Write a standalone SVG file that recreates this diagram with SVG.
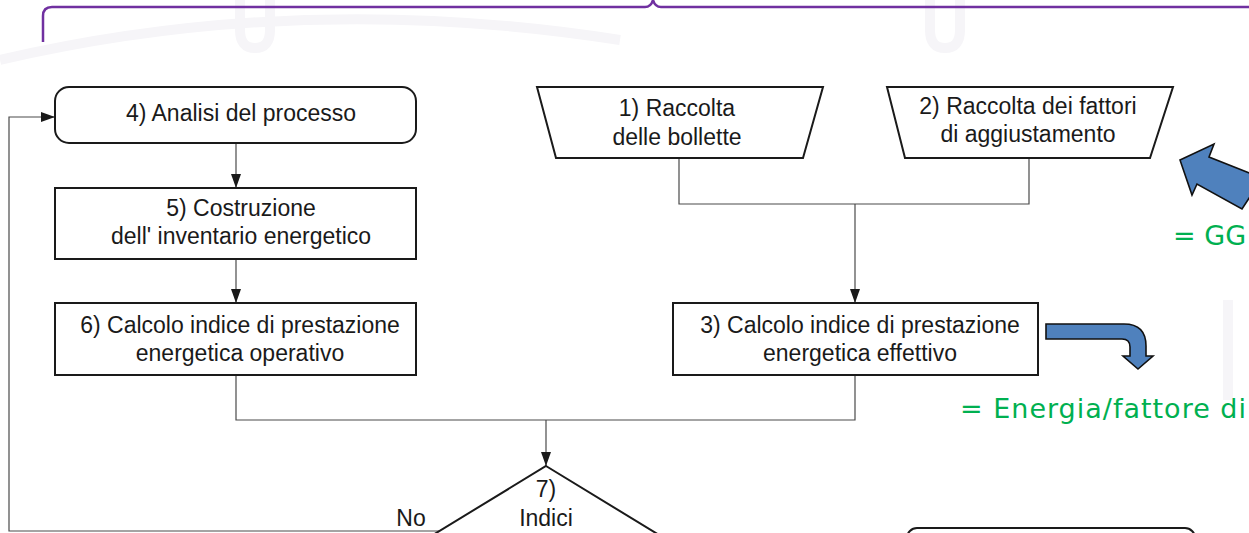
<svg xmlns="http://www.w3.org/2000/svg" width="1249" height="533" viewBox="0 0 1249 533">
  <style>
    .box { fill: #ffffff; stroke: #1a1a1a; stroke-width: 2; }
    .lbl { font-family: "Liberation Sans", Arial, sans-serif; font-size: 23px; fill: #1a1a1a; text-anchor: middle; }
    .conn { fill: none; stroke: #4a4a4a; stroke-width: 1.2; }
    .blue { fill: #4f81bd; stroke: #111111; stroke-width: 1.6; stroke-linejoin: miter; }
    .note { font-family: "DejaVu Sans", Verdana, sans-serif; font-size: 27px; fill: #00b050; }
    .wm { fill: none; stroke: #f6f5f8; stroke-width: 10; }
  </style>
  <defs>
    <marker id="arrow" viewBox="0 0 14 10" refX="14" refY="5" markerWidth="14" markerHeight="10" markerUnits="userSpaceOnUse" orient="auto">
      <path d="M0,0 L14,5 L0,10 Z" fill="#1a1a1a"/>
    </marker>
  </defs>

  <rect width="1249" height="533" fill="#ffffff"/>

  <!-- faint background watermark -->
  <g id="watermark">
    <path class="wm" d="M240,0 L240,30 Q240,48 255,48 Q270,48 270,30 L270,0"/>
    <path class="wm" d="M930,0 L930,30 Q930,48 945,48 Q960,48 960,30 L960,0"/>
    <path class="wm" d="M0,60 Q300,-10 620,40" stroke-width="6"/>
    <path class="wm" d="M1228,300 L1228,400" stroke-width="14"/>
  </g>

  <!-- purple brace across the top -->
  <path id="brace" d="M43,42 L43,16 Q43,7 52,7 L645,7 Q651,7 653,0 Q655,7 661,7 L1249,7" fill="none" stroke="#7030a0" stroke-width="2.5"/>

  <!-- connectors -->
  <g id="connectors">
    <line class="conn" x1="236" y1="143" x2="236" y2="188" marker-end="url(#arrow)"/>
    <line class="conn" x1="236" y1="259" x2="236" y2="303" marker-end="url(#arrow)"/>
    <polyline class="conn" points="236,375 236,420 855,420 855,375"/>
    <line class="conn" x1="546" y1="420" x2="546" y2="466" marker-end="url(#arrow)"/>
    <polyline class="conn" points="679,158 679,204 1029,204 1029,158"/>
    <line class="conn" x1="855" y1="204" x2="855" y2="303" marker-end="url(#arrow)"/>
    <polyline class="conn" points="440,531 9,531 9,117 55,117" marker-end="url(#arrow)"/>
  </g>

  <!-- 4) process analysis -->
  <g id="node4">
    <rect class="box" x="55" y="87" width="361" height="56" rx="14"/>
    <text class="lbl" x="241" y="121">4) Analisi del processo</text>
  </g>

  <!-- 5) energy inventory -->
  <g id="node5">
    <rect class="box" x="55" y="188" width="361" height="71"/>
    <text class="lbl" x="241" y="216">5) Costruzione</text>
    <text class="lbl" x="241" y="244">dell' inventario energetico</text>
  </g>

  <!-- 6) operational index -->
  <g id="node6">
    <rect class="box" x="55" y="303" width="361" height="72"/>
    <text class="lbl" x="240" y="333">6) Calcolo indice di prestazione</text>
    <text class="lbl" x="240" y="361">energetica operativo</text>
  </g>

  <!-- 1) bills -->
  <g id="node1">
    <polygon class="box" points="537,87 823,87 803,158 556,158"/>
    <text class="lbl" x="677" y="116">1) Raccolta</text>
    <text class="lbl" x="677" y="145">delle bollette</text>
  </g>

  <!-- 2) adjustment factors -->
  <g id="node2">
    <polygon class="box" points="887,87 1173,87 1150,158 905,158"/>
    <text class="lbl" x="1028" y="114">2) Raccolta dei fattori</text>
    <text class="lbl" x="1028" y="142">di aggiustamento</text>
  </g>

  <!-- 3) effective index -->
  <g id="node3">
    <rect class="box" x="673" y="303" width="365" height="72"/>
    <text class="lbl" x="860" y="333">3) Calcolo indice di prestazione</text>
    <text class="lbl" x="860" y="361">energetica effettivo</text>
  </g>

  <!-- 7) decision -->
  <g id="node7">
    <polygon class="box" points="546,466 746,588 546,710 346,588"/>
    <text class="lbl" x="546" y="497">7)</text>
    <text class="lbl" x="546" y="526">Indici</text>
  </g>
  <text id="label-no" class="lbl" x="411" y="526">No</text>

  <!-- terminal box at the bottom right -->
  <g id="node8">
    <rect class="box" x="907" y="528" width="288" height="60" rx="10"/>
  </g>

  <!-- annotation arrows and notes -->
  <g id="note-gg">
    <polygon class="blue" points="1180,160 1214,144 1209,157 1262,178 1242,209 1197,184 1192,195"/>
    <text class="note" x="1173" y="245">= GG</text>
  </g>
  <g id="note-energy">
    <path class="blue" d="M1046,324 L1124,324 Q1146,324 1146,346 L1146,356 L1153,356 L1138,369 L1123,356 L1130,356 L1130,347 Q1130,339 1122,339 L1046,339 Z"/>
    <text class="note" x="960" y="418" font-size="28" letter-spacing="1">= Energia/fattore di</text>
  </g>
</svg>
